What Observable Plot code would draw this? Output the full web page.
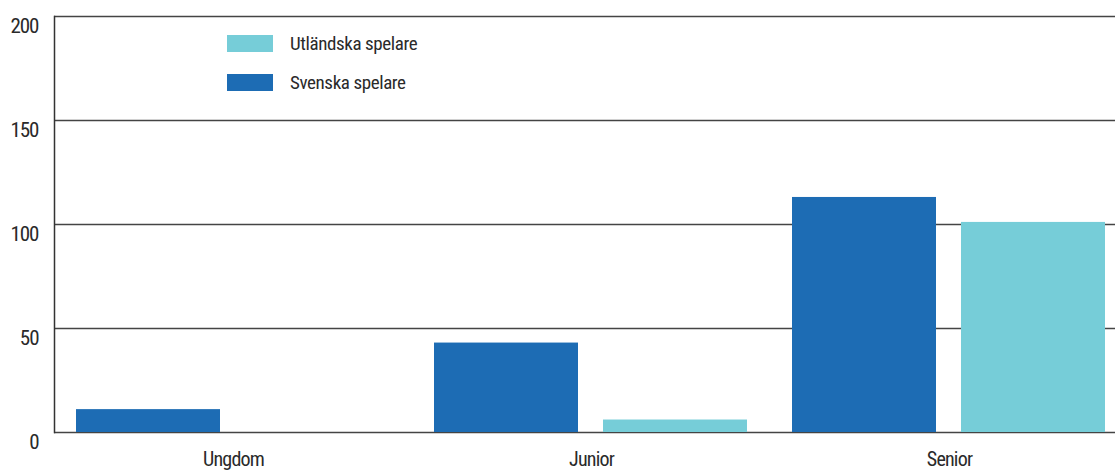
<!DOCTYPE html>
<html>
<head>
<meta charset="utf-8">
<script src="https://cdn.jsdelivr.net/npm/d3@7"></script>
<script src="https://cdn.jsdelivr.net/npm/@observablehq/plot@0.6"></script>
<style>
  html, body { margin: 0; padding: 0; background: #fff; overflow: hidden; }
  #wrap { position: relative; width: 1115px; height: 470px; overflow: hidden; }
  #legend { position: absolute; left: 227px; top: 35px; font-family: "Roboto Condensed", "DejaVu Sans Condensed", sans-serif; font-size: 19px; color: #2a2a2a; letter-spacing: -0.4px; }
  .row { display: flex; align-items: center; height: 17px; margin-bottom: 22px; }
  .sw { width: 46px; height: 17px; margin-right: 17px; flex: none; }
  svg text { font-family: "Roboto Condensed", "DejaVu Sans Condensed", sans-serif; }
  .yax text { letter-spacing: -1px; }
  .fxax text { letter-spacing: -0.8px; }
</style>
</head>
<body>
<div id="wrap"><div id="legend"></div></div>
<script>
const categories = ["Ungdom", "Junior", "Senior"];
const series = ["Svenska spelare", "Utländska spelare"];
const svenska = [11, 43, 113];
const utlandska = [0, 6, 101];
const yTicks = [0, 50, 100, 150, 200];
const colors = ["#1d6cb4", "#76cdd8"];
const legendOrder = ["Utländska spelare", "Svenska spelare"];

const rows = [];
categories.forEach((c, i) => {
  rows.push({category: c, series: series[0], value: svenska[i]});
  rows.push({category: c, series: series[1], value: utlandska[i]});
});

const font = '"Roboto Condensed", "DejaVu Sans Condensed", sans-serif';

const chart = Plot.plot({
  width: 1115,
  height: 470,
  marginLeft: 53,
  marginRight: 0,
  marginTop: 16,
  marginBottom: 38,
  style: {fontFamily: font, fontSize: "20px", color: "#2a2a2a", background: "transparent"},
  fx: {domain: categories, range: [53, 1128], padding: 0, label: null},
  x: {domain: series, paddingInner: 0.147, paddingOuter: 0.129, axis: null},
  y: {domain: [0, 200], label: null},
  color: {domain: series, range: colors},
  marks: [
    Plot.ruleY(yTicks, {stroke: "#444", strokeWidth: 1.5}),
    Plot.barY(rows, {fx: "category", x: "series", y: "value", fill: "series"}),
    Plot.frame({anchor: "left", facetAnchor: "left", stroke: "#333", strokeWidth: 1.5}),
    Plot.axisY(yTicks, {tickSize: 0, tickPadding: 16, label: null, dy: 10, fontSize: 21, className: "yax"}),
    Plot.axisFx({anchor: "bottom", tickSize: 0, tickPadding: 19, label: null, fontSize: 20, className: "fxax"})
  ]
});
chart.style.maxWidth = "none";
document.getElementById("wrap").prepend(chart);

const legend = document.getElementById("legend");
legendOrder.forEach(s => {
  const row = document.createElement("div");
  row.className = "row";
  const sw = document.createElement("div");
  sw.className = "sw";
  sw.style.background = colors[series.indexOf(s)];
  const t = document.createElement("span");
  t.textContent = s;
  row.appendChild(sw);
  row.appendChild(t);
  legend.appendChild(row);
});
</script>
</body>
</html>
